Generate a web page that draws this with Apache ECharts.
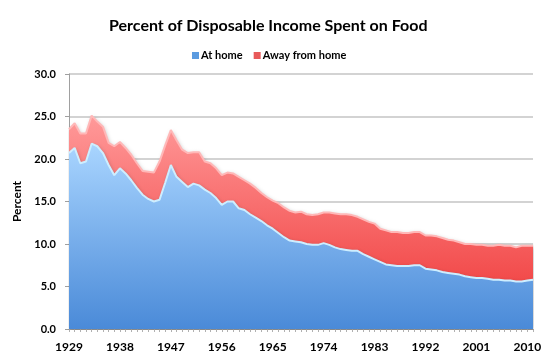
<!DOCTYPE html>
<html>
<head>
<meta charset="utf-8">
<script src="https://cdn.jsdelivr.net/npm/echarts@6/dist/echarts.min.js"></script>
<style>
html,body{margin:0;padding:0;background:#fff;}
#chart{width:557px;height:358px;}
</style>
</head>
<body>
<div id="chart"></div>
<script>
var years = ['1929','1930','1931','1932','1933','1934','1935','1936','1937','1938','1939','1940','1941','1942','1943','1944','1945','1946','1947','1948','1949','1950','1951','1952','1953','1954','1955','1956','1957','1958','1959','1960','1961','1962','1963','1964','1965','1966','1967','1968','1969','1970','1971','1972','1973','1974','1975','1976','1977','1978','1979','1980','1981','1982','1983','1984','1985','1986','1987','1988','1989','1990','1991','1992','1993','1994','1995','1996','1997','1998','1999','2000','2001','2002','2003','2004','2005','2006','2007','2008','2009','2010','2011'];

var atHome = [20.7,21.3,19.5,19.7,21.8,21.5,20.7,19.3,18.1,18.9,18.3,17.5,16.6,15.8,15.3,15.0,15.2,17.2,19.3,17.9,17.3,16.7,17.1,16.9,16.4,16.0,15.4,14.6,15.0,15.0,14.2,14.0,13.5,13.1,12.7,12.2,11.8,11.3,10.8,10.4,10.3,10.2,10.0,9.9,9.9,10.1,9.9,9.6,9.4,9.3,9.2,9.2,8.8,8.5,8.2,7.9,7.6,7.5,7.4,7.4,7.4,7.5,7.5,7.1,7.0,6.9,6.7,6.6,6.5,6.4,6.2,6.1,6.0,6.0,5.9,5.8,5.8,5.7,5.7,5.6,5.6,5.7,5.8];

var awayFromHome = [2.8,2.9,3.5,3.3,3.3,2.9,3.1,2.6,3.4,3.1,3.0,3.0,2.9,2.8,3.2,3.4,4.5,4.4,4.1,4.3,3.8,4.0,3.7,3.9,3.3,3.5,3.5,3.5,3.4,3.3,3.7,3.5,3.6,3.5,3.3,3.3,3.3,3.5,3.5,3.5,3.4,3.6,3.5,3.5,3.6,3.6,3.8,4.0,4.1,4.2,4.2,4.0,4.1,4.1,4.2,3.9,4.0,3.9,4.0,3.9,3.9,3.9,3.9,3.9,4.0,4.0,4.0,3.9,3.9,3.8,3.8,3.9,3.9,3.9,3.9,4.0,4.1,4.1,4.1,4.0,4.2,4.1,4.0];

var yTicks = [0, 5, 10, 15, 20, 25, 30];

var chart = echarts.init(document.getElementById('chart'), null, {renderer: 'canvas'});
var fontFam = 'Lato, "Open Sans", sans-serif';
chart.setOption({
  animation: false,
  backgroundColor: '#ffffff',
  title: {
    text: 'Percent of Disposable Income Spent on Food',
    left: 104,
    top: 13,
    textStyle: {fontFamily: fontFam, fontWeight: 'bold', fontSize: 16, color: '#000'}
  },
  legend: {
    top: 45,
    left: 187,
    itemWidth: 7,
    itemHeight: 7,
    itemGap: 11,
    icon: 'rect',
    textStyle: {fontFamily: fontFam, fontWeight: 'bold', fontSize: 11, color: '#000', padding: [0,0,0,-3]},
    data: [
      {name: 'At home', itemStyle: {color: '#5b9be0'}},
      {name: 'Away from home', itemStyle: {color: '#e85a5a'}}
    ]
  },
  grid: {left: 69, right: 24, top: 74, bottom: 29, containLabel: false},
  xAxis: {
    type: 'category',
    data: years,
    boundaryGap: false,
    axisLine: {lineStyle: {color: '#a0a0a0', width: 1}},
    axisTick: {show: true, interval: 0, length: 3, lineStyle: {color: '#b0b0b0'}},
    axisLabel: {
      interval: 8,
      fontFamily: fontFam, fontWeight: 'bold', fontSize: 12, color: '#000', margin: 12
    },
    splitLine: {show: false}
  },
  yAxis: {
    type: 'value',
    min: yTicks[0],
    max: yTicks[yTicks.length - 1],
    interval: 5,
    name: 'Percent',
    nameLocation: 'middle',
    nameGap: 46,
    nameTextStyle: {fontFamily: fontFam, fontWeight: 'bold', fontSize: 12, color: '#000'},
    axisLine: {show: true, lineStyle: {color: '#a0a0a0'}},
    axisTick: {show: true, length: 4, lineStyle: {color: '#a0a0a0'}},
    axisLabel: {
      formatter: function (v) { return v.toFixed(1); },
      fontFamily: fontFam, fontWeight: 'bold', fontSize: 11, color: '#000', margin: 13
    },
    splitLine: {lineStyle: {color: '#c4c4c4', width: 1.5}}
  },
  series: [
    {
      name: 'At home',
      type: 'line',
      stack: 'food',
      data: atHome,
      symbol: 'none',
      lineStyle: {color: '#cdeeff', width: 2},
      areaStyle: {
        opacity: 1,
        color: new echarts.graphic.LinearGradient(0, 0, 0, 1, [
          {offset: 0, color: '#a9d5ff'},
          {offset: 1, color: '#4a8ad8'}
        ]),
        shadowColor: 'rgba(0,0,0,0.25)', shadowBlur: 4, shadowOffsetX: 1, shadowOffsetY: 1
      },
      z: 3
    },
    {
      name: 'Away from home',
      type: 'line',
      stack: 'food',
      data: awayFromHome,
      symbol: 'none',
      lineStyle: {color: '#ffb8b8', width: 2},
      areaStyle: {
        opacity: 1,
        color: new echarts.graphic.LinearGradient(0, 0, 0, 1, [
          {offset: 0, color: '#ff9a9a'},
          {offset: 1, color: '#f24a4a'}
        ]),
        shadowColor: 'rgba(0,0,0,0.25)', shadowBlur: 4, shadowOffsetX: 1, shadowOffsetY: 1
      },
      z: 2
    }
  ]
});
</script>
</body>
</html>
